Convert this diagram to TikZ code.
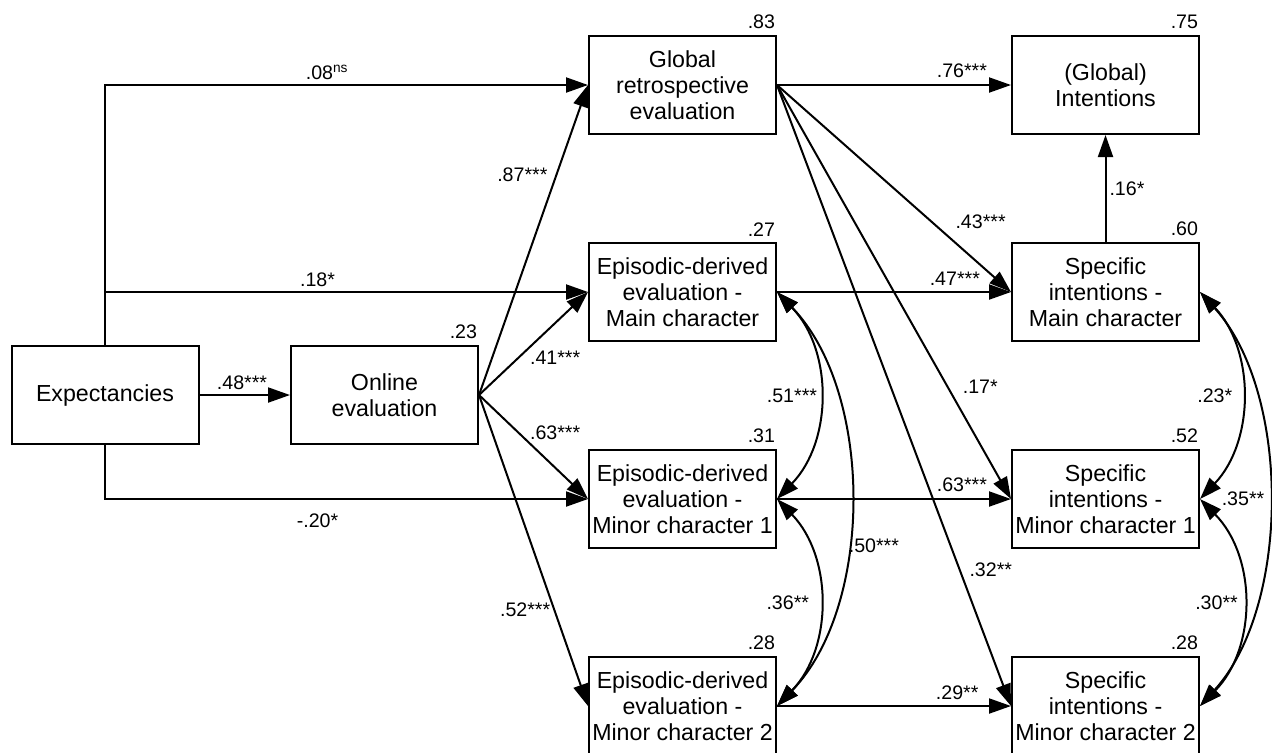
\documentclass[tikz,border=0pt]{standalone}
\usepackage{fontspec}
\setmainfont{Liberation Sans}
\usetikzlibrary{arrows.meta,positioning}

\tikzset{
  var/.style={draw, line width=1pt, minimum width=93.5pt, minimum height=49pt,
    align=center, inner sep=1pt, font=\fontsize{11.6pt}{13pt}\selectfont},
  coef/.style={inner sep=1pt, outer sep=0pt, font=\fontsize{9.8pt}{11pt}\selectfont},
  rsq/.style={coef, anchor=south east, inner xsep=1pt, inner ysep=3pt},
}

\begin{document}
\begin{tikzpicture}[x=0.5pt,y=-0.5pt,on grid,line width=1pt,
    >={Triangle[length=11pt,width=7.5pt]}]
    \useasboundingbox (0,0) rectangle (1272,752);

    % predictors
    \node[var]                                (exp)  at (105,395)            {Expectancies};
    \node[var,label={[rsq]north east:.23}]    (onl)  [right=139.75pt of exp] {Online\\evaluation};

    % evaluations
    \node[var,label={[rsq]north east:.83}]    (glob) at (682.5,85)           {Global\\retrospective\\evaluation};
    \node[var,label={[rsq]north east:.27}]    (epm)  [below=103.5pt of glob] {Episodic-derived\\evaluation -\\Main character};
    \node[var,label={[rsq]north east:.31}]    (ep1)  [below=103.5pt of epm]  {Episodic-derived\\evaluation -\\Minor character 1};
    \node[var,label={[rsq]north east:.28}]    (ep2)  [below=103.5pt of ep1]  {Episodic-derived\\evaluation -\\Minor character 2};

    % intentions
    \node[var,label={[rsq]north east:.75}]    (gint) [right=211.5pt of glob] {(Global)\\Intentions};
    \node[var,label={[rsq]north east:.60}]    (spm)  [right=211.5pt of epm]  {Specific\\intentions -\\Main character};
    \node[var,label={[rsq]north east:.52}]    (sp1)  [right=211.5pt of ep1]  {Specific\\intentions -\\Minor character 1};
    \node[var,label={[rsq]north east:.28}]    (sp2)  [right=211.5pt of ep2]  {Specific\\intentions -\\Minor character 2};

    % paths from expectancies
    \draw[->] (exp.north) |- node[coef,pos=.73,above=1.5pt] {.08\textsuperscript{ns}} (glob.west);
    \draw[->] (exp.north) |- node[coef,pos=.72,above=1.5pt] {.18*} (epm.west);
    \draw[->] (exp.south) |- node[coef,pos=.72,below=6.5pt] {-.20*} (ep1.west);

    \path[->] (exp)       edge node[coef,pos=.47,above=1.5pt]  {.48***} (onl)
              (onl.east)  edge node[coef,pos=.71,left=3.5pt]   {.87***} (glob.west)
              (onl.east)  edge node[coef,pos=.45,below right=0pt] {.41***} (epm.west)
              (onl.east)  edge node[coef,pos=.45,above right=0pt] {.63***} (ep1.west)
              (onl.east)  edge node[coef,pos=.69,left=1pt]     {.52***} (ep2.west)
              (glob.east) edge node[coef,pos=.79,above=2.5pt]  {.76***} (gint.west)
              (glob.east) edge node[coef,pos=.87,above=17pt]   {.43***} (spm.west)
              (glob.east) edge node[coef,pos=.73,right=6.5pt]  {.17*}   (sp1.west)
              (glob.east) edge node[coef,pos=.78,right=4pt]    {.32**}  (sp2.west)
              (epm.east)  edge node[coef,pos=.76,above=2.5pt]  {.47***} (spm.west)
              (ep1.east)  edge node[coef,pos=.79,above=2.5pt]  {.63***} (sp1.west)
              (ep2.east)  edge node[coef,pos=.77,above=2pt]    {.29**}  (sp2.west)
              (spm)       edge node[coef,pos=.5,right=1pt]     {.16*}   (gint);

    % covariances
    \draw[<->] (epm.east) .. controls +(56,58) and +(56,-58) .. (ep1.east) node[coef,pos=.5,left=0pt] {.51***};
    \draw[<->] (ep1.east) .. controls +(56,58) and +(56,-58) .. (ep2.east) node[coef,pos=.5,left=4pt] {.36**};
    \draw[<->] (epm.east) .. controls +(97,100) and +(97,-100) .. (ep2.east) node[coef,pos=.6,right=0pt] {.50***};
    \draw[<->] (spm.east) .. controls +(55,58) and +(55,-58) .. (sp1.east) node[coef,pos=.5,left=3.5pt] {.23*};
    \draw[<->] (sp1.east) .. controls +(57,58) and +(57,-58) .. (sp2.east) node[coef,pos=.5,left=1.5pt] {.30**};
    \draw[<->] (spm.east) .. controls +(91,100) and +(91,-100) .. (sp2.east) node[coef,pos=.5,left=1pt] {.35**};
\end{tikzpicture}
\end{document}
